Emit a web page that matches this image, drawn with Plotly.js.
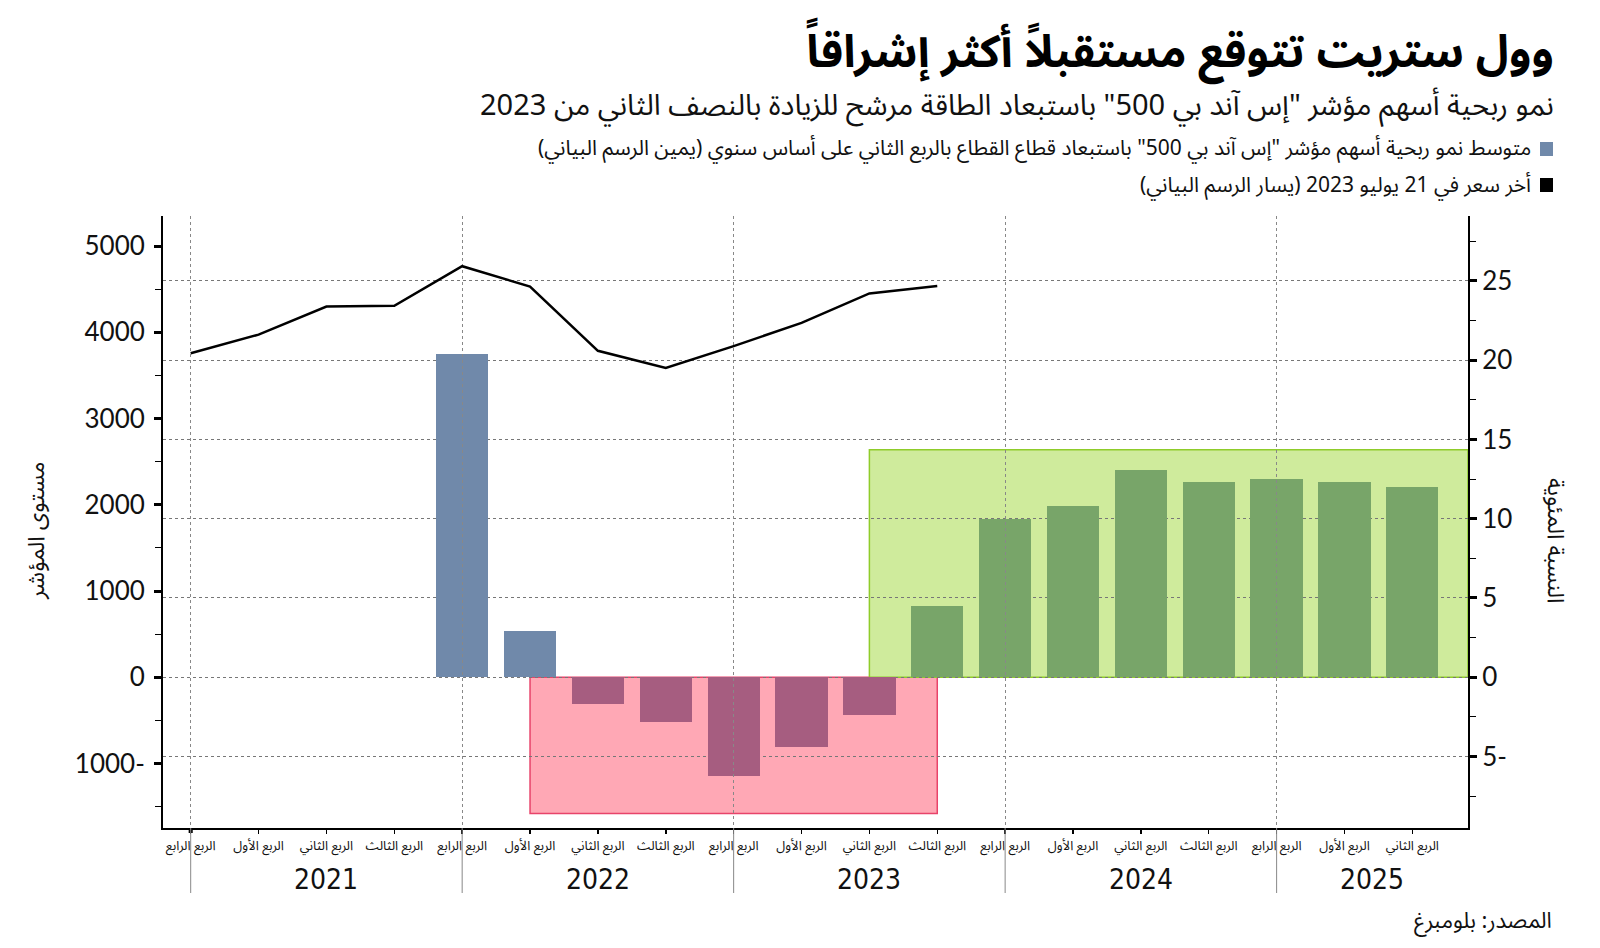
<!DOCTYPE html>
<html>
<head>
<meta charset="utf-8">
<script src="https://cdn.plot.ly/plotly-3.0.1.min.js"></script>
<style>
html,body{margin:0;padding:0;background:#fff;}
#chart{width:1600px;height:948px;}
</style>
</head>
<body>
<div id="chart"></div>
<script>
// ---------- data ----------
const quarterLabels = [
  'الربع الرابع','الربع الأول','الربع الثاني','الربع الثالث',
  'الربع الرابع','الربع الأول','الربع الثاني','الربع الثالث',
  'الربع الرابع','الربع الأول','الربع الثاني','الربع الثالث',
  'الربع الرابع','الربع الأول','الربع الثاني','الربع الثالث',
  'الربع الرابع','الربع الأول','الربع الثاني'
];
const years = ['2021','2022','2023','2024','2025'];
const yearStartIdx = [0, 4, 8, 12, 16];

// S&P 500 level (left axis)
const priceIdx = [0,1,2,3,4,5,6,7,8,9,10,11];
const priceValues = [3756, 3973, 4298, 4308, 4766, 4530, 3785, 3586, 3840, 4109, 4450, 4536];

// Average earnings growth ex-energy, % YoY (right axis)
const actualIdx = [4, 5];
const actualValues = [20.4, 2.9];
const declineIdx = [6, 7, 8, 9, 10];
const declineValues = [-1.7, -2.8, -6.2, -4.4, -2.4];
const growthIdx = [11, 12, 13, 14, 15, 16, 17, 18];
const growthValues = [4.5, 10.0, 10.8, 13.1, 12.3, 12.5, 12.3, 12.0];

// highlighted periods
const declineSpan = [5, 11];
const declineFloor = -8.6;
const growthStart = 10;
const growthCeil = 14.35;

const leftTicks = [-1000, 0, 1000, 2000, 3000, 4000, 5000];
const leftMinor = [-1500, -500, 500, 1500, 2500, 3500, 4500];
const rightTicks = [-5, 0, 5, 10, 15, 20, 25];
const rightMinor = [-7.5, -2.5, 2.5, 7.5, 12.5, 17.5, 22.5, 27.5];

const titleText = 'وول ستريت تتوقع مستقبلاً أكثر إشراقاً';
const subtitleText = 'نمو ربحية أسهم مؤشر "إس آند بي 500" باستبعاد الطاقة مرشح للزيادة بالنصف الثاني من 2023';
const legendBars = 'متوسط نمو ربحية أسهم مؤشر "إس آند بي 500" باستبعاد قطاع القطاع بالربع الثاني على أساس سنوي (يمين الرسم البياني)';
const legendLine = 'أخر سعر في 21 يوليو 2023 (يسار الرسم البياني)';
const leftTitle = 'مستوى المؤشر';
const rightTitle = 'النسبة المئوية';
const sourceText = 'المصدر: بلومبرغ';

// ---------- layout helpers ----------
const AR = '"Noto Sans Arabic", "DejaVu Sans", sans-serif';
const NUM = 'Lato, "Open Sans", sans-serif';
const XMIN = -0.408, XMAX = 18.82;
const rtlNum = v => v < 0 ? Math.abs(v) + '-' : String(v);

const BLUE = '#7089aa', PURPLE = '#a65d80', GREEN = '#78a569';

const traces = [
  {type:'bar', x: actualIdx, y: actualValues, xaxis:'x', yaxis:'y2', width:0.77,
   marker:{color:BLUE}, showlegend:false, hoverinfo:'y'},
  {type:'bar', x: declineIdx, y: declineValues, xaxis:'x', yaxis:'y2', width:0.77,
   marker:{color:PURPLE}, showlegend:false, hoverinfo:'y'},
  {type:'bar', x: growthIdx, y: growthValues, xaxis:'x', yaxis:'y2', width:0.77,
   marker:{color:GREEN}, showlegend:false, hoverinfo:'y'},
  {type:'scatter', mode:'lines', x: priceIdx, y: priceValues, xaxis:'x2', yaxis:'y',
   line:{color:'#000', width:2.5}, showlegend:false, hoverinfo:'y'}
];

const W = 1305, H = 612, L = 163, T = 216;
const px = x => (x - L) / W;
const py = y => (T + H - y) / H;

const annotations = [
  {text: titleText, x: px(1556), y: py(52), xref:'paper', yref:'paper', xanchor:'right', yanchor:'middle',
   showarrow:false, font:{family:AR, size:45, color:'#000', weight:'bold'}},
  {text: subtitleText, x: px(1556), y: py(106), xref:'paper', yref:'paper', xanchor:'right', yanchor:'middle',
   showarrow:false, font:{family:AR, size:29, color:'#111'}},
  {text: legendBars, x: px(1533), y: py(148), xref:'paper', yref:'paper', xanchor:'right', yanchor:'middle',
   showarrow:false, font:{family:AR, size:21, color:'#111'}},
  {text: legendLine, x: px(1533), y: py(185), xref:'paper', yref:'paper', xanchor:'right', yanchor:'middle',
   showarrow:false, font:{family:AR, size:21, color:'#111'}},
  {text: sourceText, x: px(1554), y: py(921), xref:'paper', yref:'paper', xanchor:'right', yanchor:'middle',
   showarrow:false, font:{family:AR, size:22, color:'#111'}},
  {text: leftTitle, x: px(36), y: py(531), xref:'paper', yref:'paper', xanchor:'center', yanchor:'middle',
   textangle:-90, showarrow:false, font:{family:AR, size:23, color:'#111'}},
  {text: rightTitle, x: px(1556), y: py(541), xref:'paper', yref:'paper', xanchor:'center', yanchor:'middle',
   textangle:90, showarrow:false, font:{family:AR, size:23, color:'#111'}}
];
years.forEach((yr, i) => {
  const s = yearStartIdx[i];
  const e = Math.min(s + 4, XMAX);
  annotations.push({text: yr, x: (s + e) / 2, y: py(879), xref:'x', yref:'paper',
    xanchor:'center', yanchor:'middle', showarrow:false,
    font:{family:'"Liberation Sans Narrow", "DejaVu Sans Condensed", "Liberation Sans", sans-serif', size:28, color:'#111'}});
});

const shapes = [
  {type:'rect', layer:'below', xref:'x', yref:'y2', x0: declineSpan[0], x1: declineSpan[1], y0: 0, y1: declineFloor,
   fillcolor:'#ffa8b5', line:{color:'#e8436a', width:1.5}},
  {type:'rect', layer:'below', xref:'x', yref:'y2', x0: growthStart, x1: XMAX, y0: 0, y1: growthCeil,
   fillcolor:'#cfeb9c', line:{color:'#8fcc2a', width:1.5}},
  // legend swatches
  {type:'rect', xref:'paper', yref:'paper', x0: px(1540), x1: px(1553), y0: py(156), y1: py(142),
   fillcolor: BLUE, line:{width:0}},
  {type:'rect', xref:'paper', yref:'paper', x0: px(1540), x1: px(1553), y0: py(192), y1: py(178),
   fillcolor: '#000', line:{width:0}},
  // bold marker at the first quarter tick
  {type:'rect', xref:'x', yref:'paper', x0: -0.03, x1: 0.03, y0: 0, y1: py(833),
   fillcolor:'#000', line:{width:0}}
];
// year divider lines below the axis
yearStartIdx.forEach(s => {
  shapes.push({type:'line', xref:'x', yref:'paper', x0: s, x1: s, y0: 0, y1: py(893),
    line:{color:'#888', width:1}});
});

const layout = {
  width:1600, height:948,
  margin:{l:L, r:1600-L-W, t:T, b:948-T-H, pad:0},
  paper_bgcolor:'#fff', plot_bgcolor:'rgba(0,0,0,0)',
  showlegend:false, bargap:0,
  xaxis:{range:[XMIN, XMAX], tickmode:'array', tickvals: quarterLabels.map((_, i) => i), ticktext: quarterLabels,
    ticks:'outside', ticklen:4, tickwidth:1.5, tickcolor:'#000', showgrid:false, zeroline:false,
    showline:true, linecolor:'#000', linewidth:2, tickangle:0,
    tickfont:{family:AR, size:13, color:'#111'}, fixedrange:true},
  xaxis2:{range:[XMIN, XMAX], overlaying:'x', anchor:'y', side:'bottom', tickmode:'array', tickvals: yearStartIdx,
    showticklabels:false, ticks:'', showgrid:true, griddash:'dot', gridcolor:'#888', gridwidth:1,
    zeroline:false, showline:false, fixedrange:true},
  yaxis:{range:[-1747, 5348], tickmode:'array', tickvals:leftTicks, ticktext:leftTicks.map(rtlNum),
    ticks:'outside', ticklen:7, tickwidth:3, tickcolor:'#000',
    minor:{tickmode:'array', tickvals:leftMinor, ticks:'outside', ticklen:6, tickwidth:1, tickcolor:'#000', showgrid:false},
    showgrid:false, zeroline:false, showline:true, linecolor:'#000', linewidth:2,
    tickfont:{family:NUM, size:26, color:'#111'}, ticklabelstandoff:4, fixedrange:true},
  yaxis2:{range:[-9.51, 29.09], overlaying:'y', side:'right', anchor:'x', tickmode:'array', tickvals:rightTicks,
    ticktext:rightTicks.map(rtlNum),
    ticks:'outside', ticklen:7, tickwidth:3, tickcolor:'#000',
    minor:{tickmode:'array', tickvals:rightMinor, ticks:'outside', ticklen:6, tickwidth:1, tickcolor:'#000', showgrid:false},
    showgrid:true, griddash:'dot', gridcolor:'#777', gridwidth:1, zeroline:false,
    showline:true, linecolor:'#000', linewidth:2,
    tickfont:{family:NUM, size:26, color:'#111'}, fixedrange:true},
  annotations: annotations,
  shapes: shapes
};

Plotly.newPlot('chart', traces, layout, {displayModeBar:false, staticPlot:true});
</script>
</body>
</html>
